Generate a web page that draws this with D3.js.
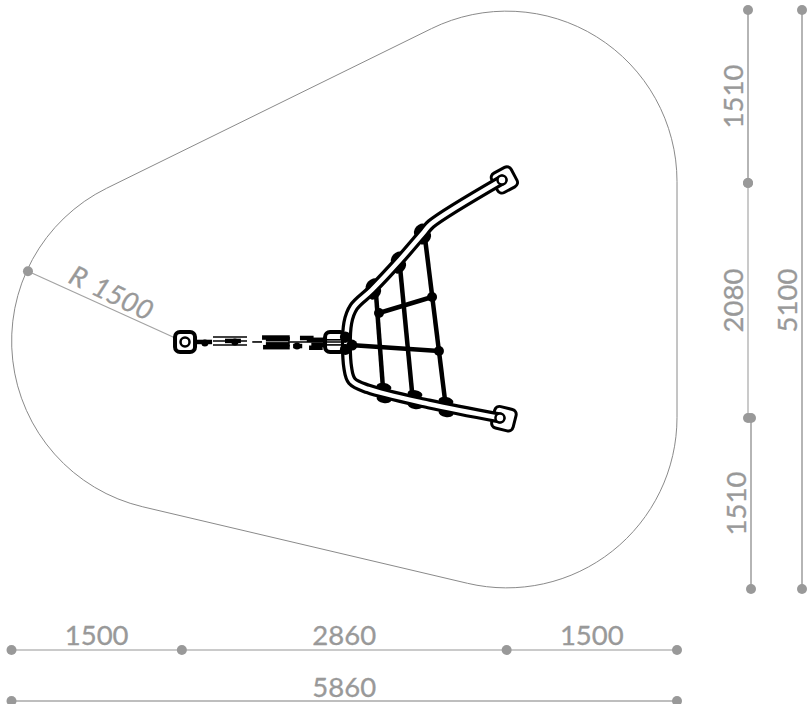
<!DOCTYPE html>
<html>
<head>
<meta charset="utf-8">
<style>
  body { margin: 0; background: #fff; }
  text.dim { font-family: Lato, "Open Sans", sans-serif; font-size: 27.5px; fill: #999; stroke: #999; stroke-width: 0.3px; }
  .dimline { stroke: #a3a3a3; stroke-width: 1.6px; fill: none; }
  .dimdot { fill: #999; }
</style>
<script src="https://cdn.jsdelivr.net/npm/d3@7"></script>
</head>
<body>
<div id="chart"></div>
<script>
// all values in mm
var widths = [1500, 2860, 1500];
var totalWidth = [5860];
var heights = [1510, 2080, 1510];
var totalHeight = [5100];
var radius = 1500;
var radiusLabel = "R 1500";

// safety zone circle centres [x, y]
var zoneCentres = [[1500, 2916], [4360, 1510], [4360, 3590]];

// tube frame
var tube = [[4319,1497],[3694,1885],[3632,1955],[3419,2202],[3172,2466],[3014,2616],[2961,2757],
            [2961,3153],[2998,3268],[3139,3338],[3673,3470],[4301,3594]];

// net ropes [x1, y1, x2, y2]
var ropes = [[3209,2493,3271,3329],[3421,2264,3527,3365],[3641,2008,3817,3435],
             [2980,2951,3764,3004],[3236,2669,3703,2528]];

var clampsUpper = [[3172,2422],[3201,2493],[3394,2185],[3421,2264],[3597,1938],[3641,2008]];
var clampsLower = [[3280,3321],[3280,3427],[3553,3383],[3553,3480],[3826,3444],[3826,3550]];
var knots = [[3764,3004],[3236,2669],[3703,2528]];
var frameKnots = [[2998,2951],[2940,2880],[2940,2990]];

// footings [x, y, rotation]
var footings = [[4340,1497,-28],[4336,3600,14]];
var chainFootings = [[1528,2924,0],[2849,2924,0]];

// chain seen from above
var chainThin = [[1774,2880,2074,2880],[1774,2951,2074,2951],[1774,2915,2074,2915],
                 [2120,2924,2206,2924],[2435,2924,2950,2924],[2700,2905,2950,2905],[2700,2950,2950,2950]];
var chainThick = [[1625,2924,1766,2924],[1880,2915,2020,2915],
                  [2206,2885,2450,2885],[2240,2900,2450,2900],[2240,2945,2450,2945],[2215,2970,2450,2970],
                  [2480,2960,2560,2960],[2540,2889,2660,2889],[2600,2905,2760,2905],[2640,2950,2760,2950],
                  [2620,2975,2740,2975]];
var chainKnots = [[1703,2933],[1967,2924],[2514,2960]];

var W = 809, H = 704;

var x = d3.scaleLinear().domain([0, d3.sum(widths)]).range([11.5, 677]);
var y = d3.scaleLinear().domain([0, d3.sum(heights)]).range([10, 589]);
// the height dimension ticks sit a little off the plan's scale in the original
var yDim = d3.scaleLinear().domain([0, 1510, 3590, 5100]).range([10, 183, 418, 589]);
var r = radius * (x(1) - x(0));

var svg = d3.select("#chart").append("svg")
  .attr("width", W)
  .attr("height", H);

// Outline: hull of the three circles
function tangent(a, b) {
  var dx = b[0] - a[0], dy = b[1] - a[1], len = Math.hypot(dx, dy);
  var nx = dy / len * radius, ny = -dx / len * radius;
  return [[a[0] + nx, a[1] + ny], [b[0] + nx, b[1] + ny]];
}
var hull = d3.pairs(zoneCentres.concat([zoneCentres[0]])).map(function(p) { return tangent(p[0], p[1]); });
var d = "";
hull.forEach(function(t, i) {
  d += (i == 0 ? "M" : "L") + x(t[0][0]) + "," + y(t[0][1]);
  d += "L" + x(t[1][0]) + "," + y(t[1][1]);
  var next = hull[(i + 1) % hull.length][0];
  d += "A" + r + "," + r + " 0 0 1 " + x(next[0]) + "," + y(next[1]);
});
svg.append("path")
  .attr("d", d + "Z")
  .attr("fill", "none")
  .attr("stroke", "#8a8a8a")
  .attr("stroke-width", 1);

// Radius leader
var c = zoneCentres[0];
var leaderEnd = [c[0] - 1355, c[1] - 615];
svg.append("line").attr("class", "dimline")
  .attr("x1", x(c[0])).attr("y1", y(c[1]))
  .attr("x2", x(leaderEnd[0])).attr("y2", y(leaderEnd[1]))
  .style("stroke-width", 1.2);
svg.append("circle").attr("class", "dimdot")
  .attr("cx", x(leaderEnd[0])).attr("cy", y(leaderEnd[1])).attr("r", 5);
svg.append("text").attr("class", "dim")
  .attr("transform", "translate(67,282) rotate(26)")
  .style("font-style", "italic")
  .style("word-spacing", "3px")
  .text(radiusLabel);

// Dimension lines
function dimH(values, py, textY, color) {
  var stops = [0].concat(Array.from(d3.cumsum(values)));
  svg.append("line").attr("class", "dimline")
    .attr("x1", x(stops[0])).attr("x2", x(stops[stops.length - 1]))
    .attr("y1", py).attr("y2", py)
    .style("stroke", color);
  svg.selectAll(null).data(stops).enter().append("circle")
    .attr("class", "dimdot")
    .attr("cx", function(s) { return x(s); })
    .attr("cy", py).attr("r", 5);
  svg.selectAll(null).data(values).enter().append("text")
    .attr("class", "dim")
    .attr("text-anchor", "middle")
    .attr("x", function(v, i) { return x((stops[i] + stops[i + 1]) / 2); })
    .attr("y", textY)
    .text(function(v) { return v; });
}
function dimV(values, pxs, textX, colors) {
  var stops = [0].concat(Array.from(d3.cumsum(values)));
  values.forEach(function(v, i) {
    var px = pxs[i];
    svg.append("line").attr("class", "dimline")
      .attr("x1", px).attr("x2", px)
      .attr("y1", yDim(stops[i])).attr("y2", yDim(stops[i + 1]))
      .style("stroke", colors[i]);
    [stops[i], stops[i + 1]].forEach(function(s) {
      svg.append("circle").attr("class", "dimdot")
        .attr("cx", px).attr("cy", yDim(s)).attr("r", 5);
    });
    svg.append("text").attr("class", "dim")
      .attr("text-anchor", "middle")
      .attr("transform", "translate(" + textX[i] + "," + yDim((stops[i] + stops[i + 1]) / 2) + ") rotate(-90)")
      .text(v);
  });
}
dimH(widths, 650, 645, "#b8b8b8");
dimH(totalWidth, 701, 697, "#a8a8a8");
dimV(heights, [748, 748, 751], [743, 743, 746], ["#a3a3a3", "#bdbdbd", "#a3a3a3"]);
dimV(totalHeight, [802], [797], ["#a3a3a3"]);

// Equipment
var eq = svg.append("g");

function segs(data, width, color) {
  return eq.selectAll(null).data(data).enter().append("line")
    .attr("x1", function(s) { return x(s[0]); })
    .attr("y1", function(s) { return y(s[1]); })
    .attr("x2", function(s) { return x(s[2]); })
    .attr("y2", function(s) { return y(s[3]); })
    .attr("stroke", color)
    .attr("stroke-width", width);
}
function dots(data, radiusPx) {
  return eq.selectAll(null).data(data).enter().append("circle")
    .attr("cx", function(p) { return x(p[0]); })
    .attr("cy", function(p) { return y(p[1]); })
    .attr("r", radiusPx);
}

// Footings go under the frame
function drawFootings(data, size, strokeWidth) {
  return eq.selectAll(null).data(data).enter().append("g")
    .attr("transform", function(f) {
      return "translate(" + x(f[0]) + "," + y(f[1]) + ") rotate(" + f[2] + ")";
    })
    .append("rect")
    .attr("x", -size / 2).attr("y", -size / 2).attr("width", size).attr("height", size).attr("rx", 5)
    .attr("fill", "#fff").attr("stroke", "#000").attr("stroke-width", strokeWidth);
}
drawFootings(footings, 22, 3);
drawFootings(chainFootings, 20, 4);

segs(ropes, 4.5, "#000");

var tubeLine = d3.line()
  .x(function(p) { return x(p[0]); })
  .y(function(p) { return y(p[1]); })
  .curve(d3.curveCatmullRom.alpha(0.5));
eq.append("path").attr("d", tubeLine(tube)).attr("fill", "none")
  .attr("stroke", "#000").attr("stroke-width", 11).attr("stroke-linecap", "round");

function clamps(data, angle, rx, ry) {
  eq.selectAll(null).data(data).enter().append("ellipse")
    .attr("rx", rx).attr("ry", ry)
    .attr("transform", function(p) {
      return "translate(" + x(p[0]) + "," + y(p[1]) + ") rotate(" + angle + ")";
    });
}
clamps(clampsUpper, -50, 7.5, 5);
clamps(clampsLower, 10, 7.5, 4);

// Clamps sit on the outer walls, the bore stays open
eq.append("path").attr("d", tubeLine(tube)).attr("fill", "none")
  .attr("stroke", "#fff").attr("stroke-width", 4.5).attr("stroke-linecap", "round");

// Holes at the ends of the tube and in the chain footing
dots([tube[0], tube[tube.length - 1], chainFootings[0]], 4.5)
  .attr("fill", "#fff").attr("stroke", "#000").attr("stroke-width", 2.5);

dots(knots, 5);

// Chain
segs(chainThin, 1.6, "#000");
segs(chainThick, 4.5, "#000");
dots(chainKnots, 3.5);
dots(frameKnots, 5.5);
</script>
</body>
</html>
